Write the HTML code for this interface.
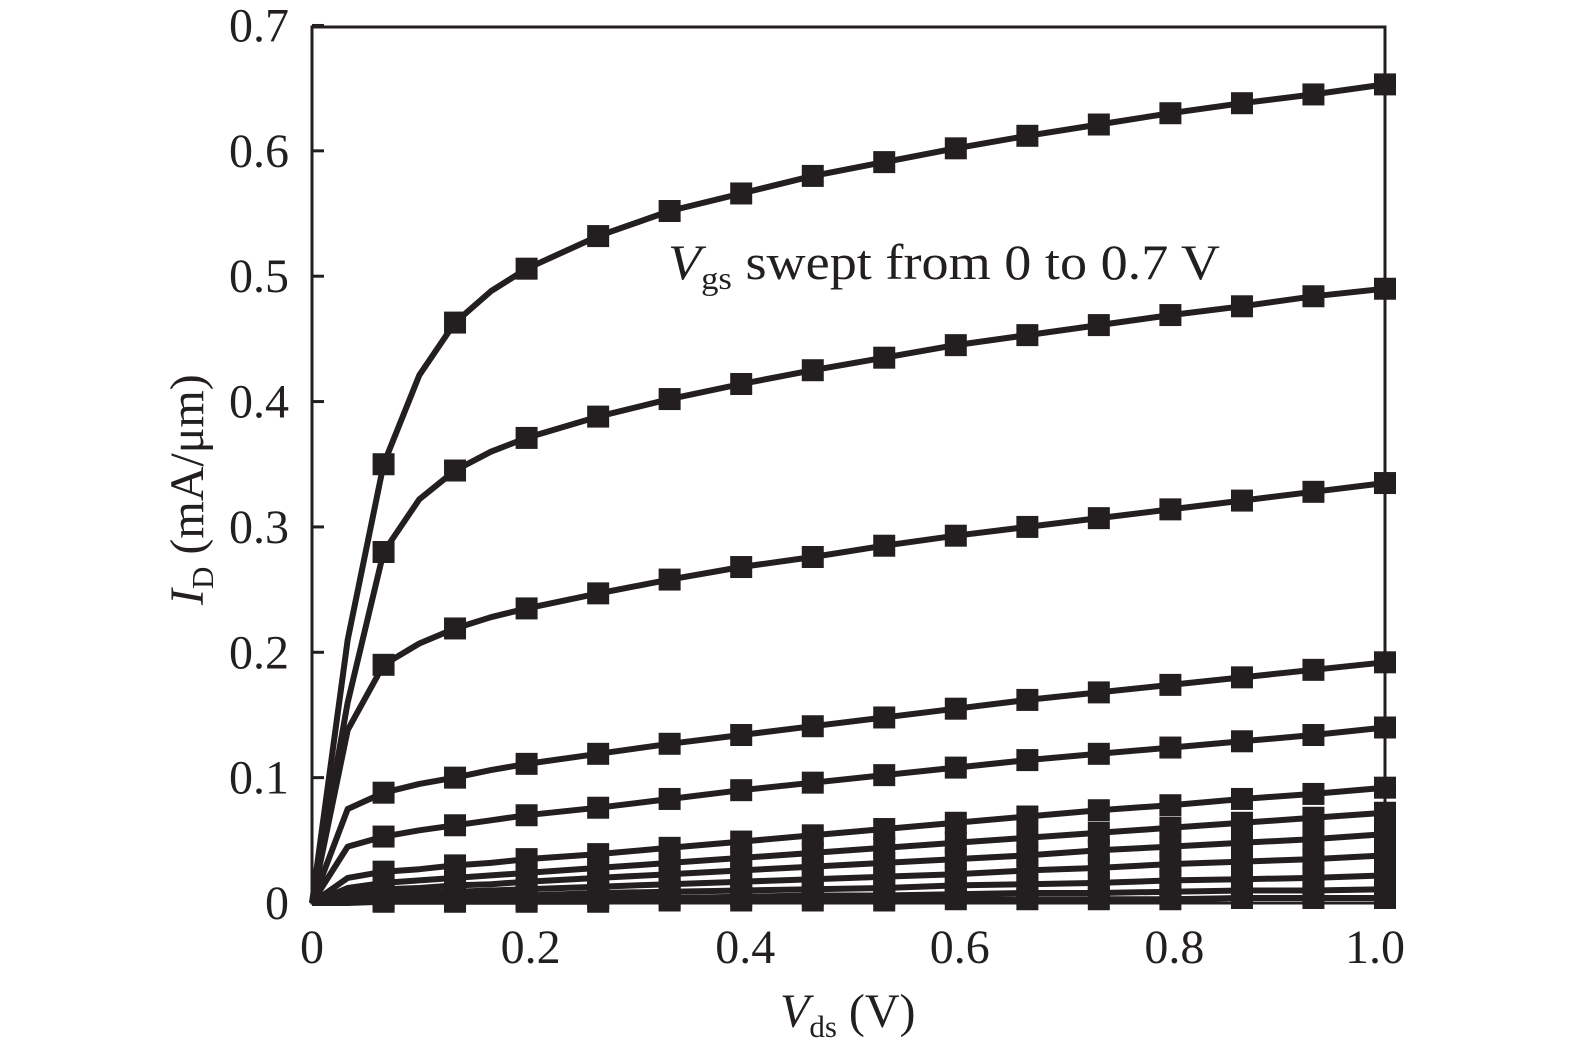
<!DOCTYPE html>
<html><head><meta charset="utf-8"><style>
body{margin:0;background:#fff}
svg text{font-family:"Liberation Serif",serif;fill:#231f20}
</style></head><body>
<svg id="chart" width="1575" height="1055" xmlns="http://www.w3.org/2000/svg">
<rect x="312" y="27" width="1073" height="876" fill="none" stroke="#231f20" stroke-width="3"/>
<g id="ticks"></g>
<g id="series"></g>
<text x="668" y="279" font-size="50" textLength="552" lengthAdjust="spacingAndGlyphs"><tspan font-style="italic">V</tspan><tspan font-size="32" dy="10">gs</tspan><tspan dy="-10"> swept from 0 to 0.7 V</tspan></text>
<text x="780" y="1027" font-size="48"><tspan font-style="italic">V</tspan><tspan font-size="31" dy="10">ds</tspan><tspan dy="-10"> (V)</tspan></text>
<text transform="translate(203,605) rotate(-90)" font-size="48"><tspan font-style="italic">I</tspan><tspan font-size="31" dy="10">D</tspan><tspan dy="-10"> (mA/μm)</tspan></text>
</svg>
<script>
const xs=[0,0.0333,0.0667,0.1,0.1333,0.1667,0.2,0.2667,0.3333,0.4,0.4667,0.5333,0.6,0.6667,0.7333,0.8,0.8667,0.9333,1.0];
const c1=[0,0.21,0.35,0.421,0.463,0.488,0.506,0.532,0.552,0.566,0.58,0.591,0.602,0.612,0.621,0.63,0.638,0.645,0.653];
const c2=[0,0.16,0.28,0.322,0.345,0.36,0.371,0.388,0.402,0.414,0.425,0.435,0.445,0.453,0.461,0.469,0.476,0.484,0.49];
const c3=[0,0.138,0.19,0.207,0.219,0.228,0.235,0.247,0.258,0.268,0.276,0.285,0.293,0.3,0.307,0.314,0.321,0.328,0.335];
const c4=[0,0.075,0.088,0.095,0.1,0.106,0.111,0.119,0.127,0.134,0.141,0.148,0.155,0.162,0.168,0.174,0.18,0.186,0.192];
const c5=[0,0.045,0.053,0.058,0.062,0.066,0.07,0.076,0.083,0.09,0.096,0.102,0.108,0.114,0.119,0.124,0.129,0.134,0.14];
const c6=[0,0.02,0.025,0.027,0.03,0.032,0.035,0.039,0.044,0.049,0.054,0.059,0.064,0.069,0.074,0.078,0.083,0.087,0.092];
const c7=[0,0.012,0.016,0.018,0.02,0.022,0.024,0.028,0.032,0.036,0.04,0.044,0.048,0.052,0.056,0.06,0.064,0.068,0.072];
const c8=[0,0.008,0.011,0.012,0.014,0.015,0.017,0.02,0.023,0.026,0.029,0.032,0.035,0.038,0.042,0.045,0.048,0.051,0.055];
const c9=[0,0.005,0.007,0.008,0.009,0.01,0.011,0.013,0.015,0.017,0.019,0.021,0.023,0.026,0.028,0.031,0.033,0.035,0.038];
const c10=[0,0.003,0.004,0.005,0.005,0.006,0.006,0.008,0.009,0.01,0.011,0.012,0.014,0.015,0.016,0.018,0.019,0.02,0.022];
const c11=[0,0.001,0.002,0.002,0.003,0.003,0.003,0.004,0.004,0.005,0.006,0.006,0.007,0.008,0.008,0.009,0.01,0.01,0.011];
const c12=[0,0,0.001,0.001,0.001,0.001,0.001,0.001,0.002,0.002,0.002,0.002,0.003,0.003,0.003,0.003,0.004,0.004,0.004];
const curves=[c1,c2,c3,c4,c5,c6,c7,c8,c9,c10,c11,c12];
const markerIdx=[2,4,6,7,8,9,10,11,12,13,14,15,16,17,18];
const yTicks=[0,0.1,0.2,0.3,0.4,0.5,0.6,0.7];
const yTickLabels=["0","0.1","0.2","0.3","0.4","0.5","0.6","0.7"];
const xTicks=[0,0.2,0.4,0.6,0.8,1.0];
const xTickLabels=["0","0.2","0.4","0.6","0.8","1.0"];

const NS="http://www.w3.org/2000/svg";
const X=v=>312+v*1073;
const Y=v=>903-v*1253.6;
function mk(t,a,p){const e=document.createElementNS(NS,t);for(const k in a)e.setAttribute(k,a[k]);p.appendChild(e);return e;}
const tg=document.getElementById('ticks'), sg=document.getElementById('series');
yTicks.forEach((v,i)=>{
  const l=mk('line',{x1:312,x2:324,y1:Y(v),y2:Y(v),stroke:'#231f20','stroke-width':3},tg);
  
  
  const t=mk('text',{x:289,y:Y(v)+16,'text-anchor':'end','font-size':48},tg);
  t.textContent=yTickLabels[i];
  
  
});
xTicks.forEach((v,i)=>{
  const t=mk('text',{x:X(v)+(v>0.95?-10:v>0?4:0),y:963,'text-anchor':'middle','font-size':48},tg);
  t.textContent=xTickLabels[i];
  
  
});
curves.forEach((c,ci)=>{
  const g=mk('g',{},sg);
  
  
  const d=xs.map((x,i)=>(i?'L':'M')+X(x).toFixed(1)+' '+Y(c[i]).toFixed(1)).join(' ');
  const p=mk('path',{d:d,fill:'none',stroke:'#231f20','stroke-width':6,'stroke-linejoin':'round'},g);
  
  
  markerIdx.forEach(i=>{
    const r=mk('rect',{x:X(xs[i])-11,y:Y(c[i])-11,width:22,height:22,fill:'#231f20'},g);
    
    
  });
});
</script>
</body></html>
